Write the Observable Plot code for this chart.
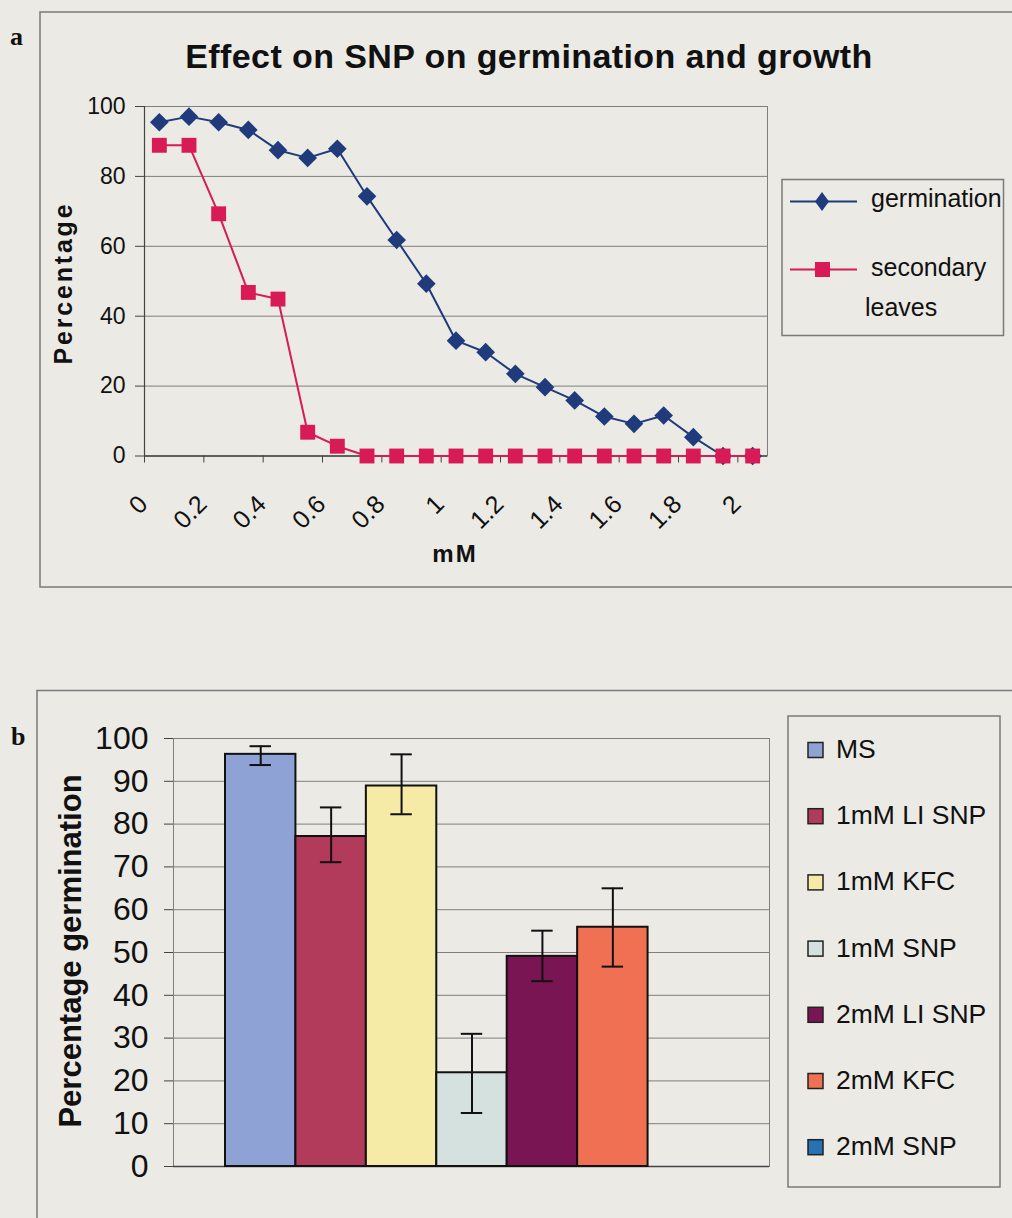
<!DOCTYPE html>
<html><head><meta charset="utf-8">
<script src="https://cdn.jsdelivr.net/npm/d3@7"></script>
<script src="https://cdn.jsdelivr.net/npm/@observablehq/plot@0.6"></script>
<style>
html,body{margin:0;padding:0;background:#ebeae4;overflow:hidden;}
#page{position:relative;width:1012px;height:1218px;background:#ebeae4;overflow:hidden;}
#page > svg{position:absolute;left:0;}
</style></head><body><div id="page"></div>
<script>
// ---------- Panel a data ----------
const concentrationsMM = [0,0.1,0.2,0.3,0.4,0.5,0.6,0.7,0.8,0.9,1.0,1.1,1.2,1.3,1.4,1.5,1.6,1.7,1.8,1.9,2.0];
const germinationPct = [95.5,97.1,95.5,93.3,87.5,85.3,87.9,74.3,61.8,49.3,33.0,29.7,23.5,19.7,15.9,11.3,9.2,11.6,5.4,0,0];
const secondaryLeavesPct = [88.9,88.9,69.3,46.8,44.9,6.8,2.8,0,0,0,0,0,0,0,0,0,0,0,0,0,0];
const seriesNamesA = ["germination","secondary leaves"];
const seriesColorsA = ["#1f3b7c","#d81b57"];
const xTickLabelsA = ["0","0.2","0.4","0.6","0.8","1","1.2","1.4","1.6","1.8","2"];
const yTicksA = [0,20,40,60,80,100];

// ---------- Panel b data ----------
const treatments = ["MS","1mM LI SNP","1mM KFC","1mM SNP","2mM LI SNP","2mM KFC","2mM SNP"];
const meanGermination = [96.3,77.1,88.9,21.9,49.1,55.9,0];
const errorLow = [93.8,71.1,82.3,12.5,43.3,46.7,null];
const errorHigh = [98.2,83.9,96.3,31.0,55.1,65.0,null];
const barColors = ["#8ea2d5","#b23b5c","#f5eaa6","#d5e1df","#7a1554","#ef7052","#2672b5"];
const yTicksB = [0,10,20,30,40,50,60,70,80,90,100];

const FONT = "'Liberation Sans', Arial, Helvetica, sans-serif";
const GRID = "#7f7f7f";
const page = document.getElementById("page");

// ---------- Panel a ----------
const step = concentrationsMM[1] - concentrationsMM[0];
const xDomainA = [d3.min(concentrationsMM) - step/2, d3.max(concentrationsMM) + step/2];
const labelValsA = xTickLabelsA.map(Number);
const boundaryTicksA = labelValsA.map(v => v - step/2);
const labelMap = new Map(labelValsA.map((v,i)=>[v, xTickLabelsA[i]]));
const germData = concentrationsMM.map((c,i)=>({x:c, y:germinationPct[i]}));
const leafData = concentrationsMM.map((c,i)=>({x:c, y:secondaryLeavesPct[i]}));

const plotA = Plot.plot({
  width:1012, height:600,
  marginLeft:144, marginRight:245, marginTop:106, marginBottom:144.5,
  style:{background:"transparent", fontFamily:FONT, color:"#111", overflow:"visible"},
  x:{type:"linear", domain:xDomainA},
  y:{domain:[0,100]},
  marks:[
    Plot.gridY(yTicksA.filter(v=>v>0 && v<100), {stroke:GRID, strokeOpacity:1}),
    Plot.frame({stroke:GRID}),
    Plot.axisY({ticks:yTicksA, tickSize:9, tickPadding:10, fontSize:23, stroke:"#444", label:null}),
    Plot.ruleX([xDomainA[0]], {stroke:"#444", strokeWidth:1.2}),
    Plot.ruleY([0], {stroke:"#444", strokeWidth:1.5}),
    Plot.axisX({ticks:boundaryTicksA, tickSize:7, tickFormat:()=>"", stroke:"#444", label:null}),
    Plot.axisX({ticks:labelValsA, tickSize:0, tickPadding:44, tickRotate:-45, dx:-16, fontSize:25, tickFormat:d=>labelMap.get(d), label:null}),
    Plot.line(germData, {x:"x", y:"y", stroke:seriesColorsA[0], strokeWidth:2}),
    Plot.dot(germData, {x:"x", y:"y", symbol:"diamond2", r:8.4, fill:seriesColorsA[0], stroke:"none"}),
    Plot.line(leafData, {x:"x", y:"y", stroke:seriesColorsA[1], strokeWidth:2}),
    Plot.dot(leafData, {x:"x", y:"y", symbol:"square", r:8.4, fill:seriesColorsA[1], stroke:"none"})
  ]
});
plotA.style.top = "0px";
page.appendChild(plotA);

// ---------- Panel b ----------
const barData = treatments.map((t,i)=>({t, v:meanGermination[i], lo:errorLow[i], hi:errorHigh[i], c:barColors[i]}));
const errData = barData.filter(d => d.lo != null);
const plotB = Plot.plot({
  width:1012, height:618,
  marginLeft:173, marginRight:243, marginTop:138, marginBottom:52,
  style:{background:"transparent", fontFamily:FONT, color:"#111", overflow:"visible"},
  x:{type:"band", domain:treatments, range:[225,718], padding:0, round:false, axis:null},
  y:{domain:[0,100]},
  marks:[
    Plot.gridY(yTicksB.filter(v=>v>0 && v<100), {stroke:GRID, strokeOpacity:1}),
    Plot.frame({stroke:GRID}),
    Plot.axisY({ticks:yTicksB, tickSize:9, tickPadding:16, fontSize:32, stroke:"#444", label:null, line:true}),
    Plot.ruleY([0], {stroke:"#444", strokeWidth:1.5}),
    Plot.barY(barData.filter(d=>d.v>0), {x:"t", y:"v", fill:"c", stroke:"#111", strokeWidth:2}),
    Plot.ruleX(errData, {x:"t", y1:"lo", y2:"hi", stroke:"#111", strokeWidth:2}),
    Plot.tickY(errData, {x:"t", y:"hi", insetLeft:24.5, insetRight:24.5, stroke:"#111", strokeWidth:2}),
    Plot.tickY(errData, {x:"t", y:"lo", insetLeft:24.5, insetRight:24.5, stroke:"#111", strokeWidth:2})
  ]
});
plotB.style.top = "600px";
page.appendChild(plotB);

// ---------- Overlay: frames, titles, legends ----------
const svg = d3.select(page).append("svg")
  .attr("width",1012).attr("height",1218)
  .style("position","absolute").style("left","0px").style("top","0px")
  .style("font-family",FONT).style("pointer-events","none");

// panel borders
svg.append("rect").attr("x",40).attr("y",12).attr("width",1000).attr("height",575)
  .attr("fill","none").attr("stroke","#7a7a7a").attr("stroke-width",1.5);
svg.append("rect").attr("x",37).attr("y",690.5).attr("width",1000).attr("height",600)
  .attr("fill","none").attr("stroke","#7a7a7a").attr("stroke-width",1.5);

// panel letters
svg.append("text").attr("x",10).attr("y",45).text("a")
  .style("font-family","'Liberation Serif', 'DejaVu Serif', serif").style("font-weight","bold").style("font-size","26px").attr("fill","#111");
svg.append("text").attr("x",11).attr("y",745).text("b")
  .style("font-family","'Liberation Serif', 'DejaVu Serif', serif").style("font-weight","bold").style("font-size","26px").attr("fill","#111");

// panel a title and axis labels
svg.append("text").attr("x",529).attr("y",68).attr("text-anchor","middle")
  .style("font-weight","bold").style("font-size","34px").style("letter-spacing","0.4px").attr("fill","#111")
  .text("Effect on SNP on germination and growth");
svg.append("text").attr("transform","translate(72,283) rotate(-90)").attr("text-anchor","middle")
  .style("font-weight","bold").style("font-size","25px").style("letter-spacing","2.8px").attr("fill","#111")
  .text("Percentage");
svg.append("text").attr("x",455).attr("y",562).attr("text-anchor","middle")
  .style("font-weight","bold").style("font-size","24px").style("letter-spacing","2px").attr("fill","#111")
  .text("mM");

// panel a legend
svg.append("rect").attr("x",782).attr("y",179.5).attr("width",221.5).attr("height",156)
  .attr("fill","none").attr("stroke","#7a7a7a").attr("stroke-width",1.5);
const legA = [
  {y:201.5, c:seriesColorsA[0], shape:"diamond", lines:["germination"], tx:[871], ty:[207]},
  {y:269.5, c:seriesColorsA[1], shape:"square", lines:["secondary","leaves"], tx:[871,865], ty:[276,316]}
];
legA.forEach(d=>{
  svg.append("line").attr("x1",790).attr("x2",857).attr("y1",d.y).attr("y2",d.y).attr("stroke",d.c).attr("stroke-width",2);
  if (d.shape==="diamond") {
    svg.append("path").attr("transform",`translate(822,${d.y})`).attr("d","M0,-9.5L7,0L0,9.5L-7,0Z").attr("fill",d.c);
  } else {
    svg.append("rect").attr("x",815).attr("y",d.y-7.5).attr("width",15).attr("height",15).attr("fill",d.c);
  }
  d.lines.forEach((t,i)=>svg.append("text").attr("x",d.tx[i]).attr("y",d.ty[i]).style("font-size","25px").attr("fill","#111").text(t));
});

// panel b y label
svg.append("text").attr("transform","translate(81,951) rotate(-90)").attr("text-anchor","middle")
  .style("font-weight","bold").style("font-size","31px").attr("fill","#111")
  .text("Percentage germination");

// panel b legend
svg.append("rect").attr("x",788).attr("y",716).attr("width",212).attr("height",471)
  .attr("fill","none").attr("stroke","#7a7a7a").attr("stroke-width",1.5);
treatments.forEach((t,i)=>{
  const base = 758 + i*66.2;
  svg.append("rect").attr("x",808).attr("y",base-15.5).attr("width",15).attr("height",15)
    .attr("fill",barColors[i]).attr("stroke","#222").attr("stroke-width",1.5);
  svg.append("text").attr("x",836).attr("y",base).style("font-size","26.5px").attr("fill","#111").text(t);
});
</script></body></html>
